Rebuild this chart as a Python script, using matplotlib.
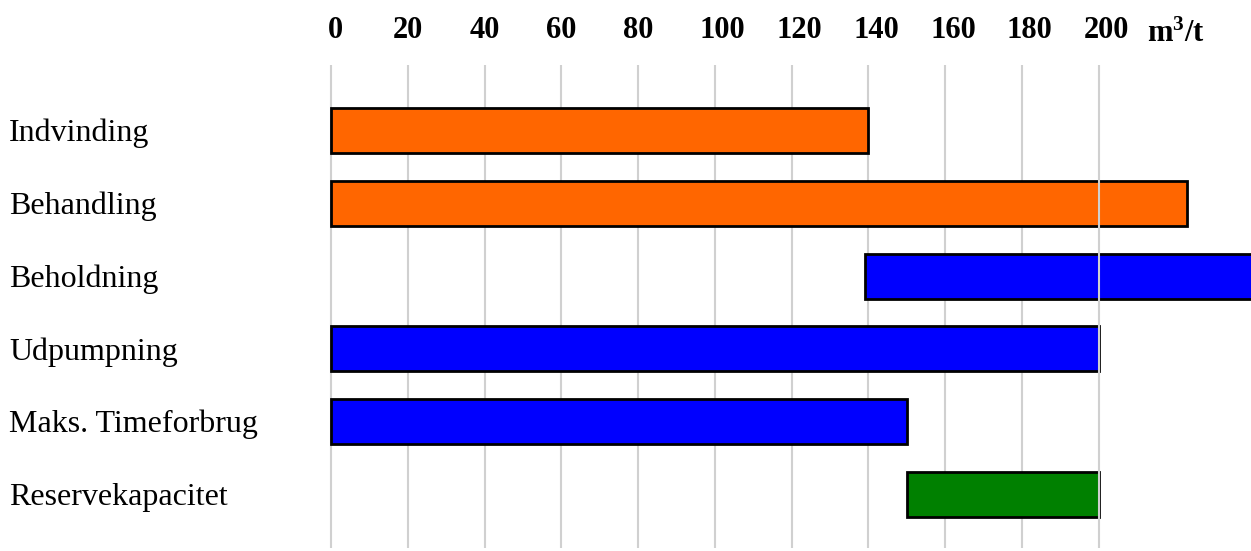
import matplotlib
matplotlib.use("Agg")
import matplotlib.pyplot as plt
import matplotlib.transforms as mtransforms

plt.rcParams["mathtext.fontset"] = "custom"
plt.rcParams["mathtext.rm"] = "Liberation Serif"
plt.rcParams["mathtext.bf"] = "Liberation Serif:bold"

# ---- data ----
categories = ["Indvinding", "Behandling", "Beholdning", "Udpumpning",
              "Maks. Timeforbrug", "Reservekapacitet"]
bar_start = [0, 0, 139, 0, 0, 150]
bar_end = [140, 223, 260, 200, 150, 200]
bar_colors = ["#FF6600", "#FF6600", "#0000FF", "#0000FF", "#0000FF", "#008000"]
tick_values = [0, 20, 40, 60, 80, 100, 120, 140, 160, 180, 200]
tick_labels = [str(v) for v in tick_values]
unit_label = r"$\mathbf{m^{3}/t}$"

# ---- layout ----
W, H, DPI = 1251, 551, 100
fig = plt.figure(figsize=(W / DPI, H / DPI), dpi=DPI)
px_per_unit = 3.8385
x0_px = 331.0            # pixel of value 0
xmin = -3.0
ax_left = x0_px + xmin * px_per_unit
ax_right = W
xmax = (ax_right - x0_px) / px_per_unit
ax_top, ax_bot = 65, 548
row0_px, row_step = 130.7, 72.7
ytop = (ax_top - row0_px) / row_step
ybot = (ax_bot - row0_px) / row_step

ax = fig.add_axes([ax_left / W, (H - ax_bot) / H, (ax_right - ax_left) / W, (ax_bot - ax_top) / H])
ax.set_xlim(xmin, xmax)
ax.set_ylim(ybot, ytop)
for s in ax.spines.values():
    s.set_visible(False)
ax.set_xticks([])
ax.set_yticks([])
ax.patch.set_alpha(0)

grid_color = "#d0d0d0"
for v in tick_values:
    ax.axvline(v, color=grid_color, lw=1.5, zorder=1 if v != 200 else 5)

ypos = list(range(len(categories)))
widths = [e - s for s, e in zip(bar_start, bar_end)]
ax.barh(ypos, widths, left=bar_start, height=0.62, color=bar_colors,
        edgecolor="black", linewidth=2, zorder=3)

serif = ["Liberation Serif", "DejaVu Serif"]

# category labels
for i, name in enumerate(categories):
    trans = mtransforms.blended_transform_factory(fig.transFigure, ax.transData)
    off = mtransforms.ScaledTranslation(0, -3 / DPI, fig.dpi_scale_trans)
    ax.text(9 / W, i, name, transform=trans + off, ha="left", va="center",
            fontsize=23, family=serif, color="black")

# top value labels
ylab = (H - 31) / H
for v, lab in zip(tick_values, tick_labels):
    trans = mtransforms.blended_transform_factory(ax.transData, fig.transFigure)
    dx = -3 if len(lab) == 1 else -15
    off = mtransforms.ScaledTranslation(dx / DPI, 0, fig.dpi_scale_trans)
    ax.text(v, ylab, lab, transform=trans + off, ha="left", va="center",
            fontsize=22, fontweight="bold", family=serif, color="black")
trans = mtransforms.blended_transform_factory(ax.transData, fig.transFigure)
off = mtransforms.ScaledTranslation(48 / DPI, 0, fig.dpi_scale_trans)
ax.text(tick_values[-1], (H - 42) / H, unit_label, transform=trans + off, ha="left",
        va="baseline", fontsize=22, color="black")

fig.savefig("out.png", dpi=DPI, facecolor="white")
